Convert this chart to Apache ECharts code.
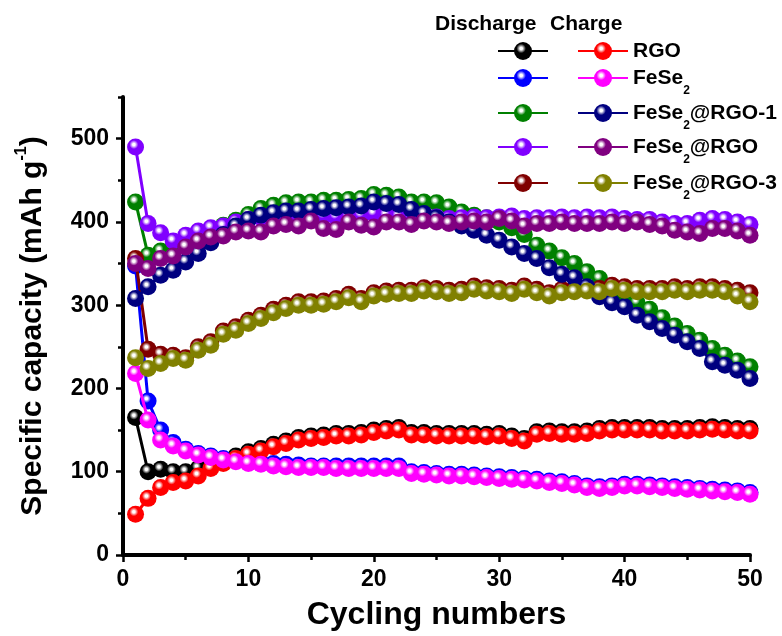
<!DOCTYPE html>
<html>
<head>
<meta charset="utf-8">
<script src="https://cdn.jsdelivr.net/npm/echarts@6/dist/echarts.min.js"></script>
<style>html,body{margin:0;padding:0;background:#fff}#c{width:782px;height:636px}</style>
</head>
<body>
<div id="c"></div>
<script>
const cycles = [1,2,3,4,5,6,7,8,9,10,11,12,13,14,15,16,17,18,19,20,21,22,23,24,25,26,27,28,29,30,31,32,33,34,35,36,37,38,39,40,41,42,43,44,45,46,47,48,49,50];

const rgoDischarge = [165,100,103,100,100,104,108,113,119,124,128,133,137,141,143,144,146,146,147,150,152,153,147,147,146,146,146,146,145,146,143,140,148,149,148,148,149,152,153,153,153,153,152,152,152,153,154,153,152,152];
const rgoCharge = [49,68,81,87,89,95,104,110,116,121,125,130,134,138,140,141,143,143,144,147,149,150,144,144,143,143,143,143,142,143,140,137,145,146,145,145,146,149,150,150,150,150,149,149,149,150,151,150,149,149];
const fese2Discharge = [347,185,150,135,127,122,119,116,114,112,111,110,109,108,107,107,107,107,107,107,107,107,100,99,98,97,97,96,95,94,93,92,91,89,88,86,83,82,83,85,85,84,83,82,81,80,79,78,77,75];
const fese2Charge = [218,162,138,131,125,120,117,114,112,110,109,107,106,105,105,105,104,104,104,104,104,104,98,97,96,95,95,94,93,92,91,90,89,87,86,84,81,80,81,83,83,82,81,80,79,78,77,76,75,73];
const rgo1Discharge = [424,360,365,370,375,382,390,396,402,409,416,420,423,424,424,426,426,427,428,433,432,430,424,424,423,418,412,408,405,400,393,385,372,365,357,350,340,332,322,312,303,295,285,275,266,258,248,240,233,226];
const rgo1Charge = [308,322,336,342,352,362,375,385,395,403,408,411,413,413,415,416,417,418,419,424,422,421,415,410,405,400,395,390,384,378,370,362,356,345,337,333,322,310,303,298,288,280,272,264,256,248,232,228,222,212];
const rgoMidDischarge = [490,398,387,377,384,389,393,395,400,403,405,407,408,408,409,407,406,406,408,410,408,407,406,405,406,404,405,406,405,406,407,404,405,405,406,405,406,405,406,404,403,403,400,398,398,402,404,403,400,397];
const rgoMidCharge = [350,344,356,359,370,377,382,383,388,389,388,395,397,395,401,392,391,400,396,394,400,400,397,401,400,398,400,401,400,404,401,395,398,398,400,398,398,398,400,398,400,397,395,390,388,386,392,392,389,384];
const rgo3Discharge = [356,247,241,240,237,250,256,269,274,282,288,295,300,304,304,305,308,313,308,315,317,318,318,321,320,318,319,323,321,320,318,323,319,315,319,320,321,320,324,322,320,320,320,322,320,322,322,320,318,315];
const rgo3Charge = [237,224,230,236,234,246,252,265,270,278,284,291,296,300,300,301,304,309,304,311,313,314,314,317,316,314,315,319,317,316,314,319,315,311,315,316,317,316,320,318,316,316,316,318,316,318,318,316,311,304];

const dischargeNames = ['RGO discharge','FeSe2 discharge','FeSe2@RGO-1 discharge','FeSe2@RGO discharge','FeSe2@RGO-3 discharge'];
const chargeNames = ['RGO','FeSe2','FeSe2@RGO-1','FeSe2@RGO','FeSe2@RGO-3'];
const dischargeData = [rgoDischarge, fese2Discharge, rgo1Discharge, rgoMidDischarge, rgo3Discharge];
const chargeData = [rgoCharge, fese2Charge, rgo1Charge, rgoMidCharge, rgo3Charge];
const dischargeColors = ['#000000','#0000ff','#008000','#8000ff','#800000'];
const chargeColors = ['#ff0000','#ff00ff','#000080','#800080','#808000'];
const xTicks = [0,10,20,30,40,50];
const yTicks = [0,100,200,300,400,500];

const FONT = '"Liberation Sans", Arial, sans-serif';

function ball(color) {
  return {
    type: 'radial', x: 0.4, y: 0.36, r: 0.62,
    colorStops: [
      {offset: 0, color: '#ffffff'},
      {offset: 0.12, color: '#ffffff'},
      {offset: 0.42, color: color},
      {offset: 1, color: color}
    ]
  };
}

function makeSeries(name, values, color, z) {
  return {
    name: name,
    type: 'line',
    data: cycles.map((c, i) => [c, values[i]]),
    symbol: 'circle',
    symbolSize: 17,
    z: z,
    lineStyle: {color: color, width: 3},
    itemStyle: {color: ball(color)},
    emphasis: {disabled: true},
    animation: false
  };
}

const series = [];
dischargeNames.forEach((n, i) => series.push(makeSeries(n, dischargeData[i], dischargeColors[i], 2 + i)));
chargeNames.forEach((n, i) => series.push(makeSeries(n, chargeData[i], chargeColors[i], 10 + i)));

function labelFmt(name) {
  if (name.indexOf('FeSe2') === 0) {
    const rest = name.slice(5);
    return '{m|FeSe}{s|2}' + (rest ? '{m|' + rest + '}' : '');
  }
  return '{m|' + name + '}{s| }';
}

const richStyle = {
  m: {fontFamily: FONT, fontWeight: 'bold', fontSize: 21, lineHeight: 40, color: '#000'},
  s: {fontFamily: FONT, fontWeight: 'bold', fontSize: 12, lineHeight: 12, padding: [27, 0, 1, 0], color: '#000'}
};

const rowCenters = [51, 78, 113, 147, 183];
const legends = [];
rowCenters.forEach((yc, i) => {
  legends.push({
    data: [dischargeNames[i]], left: 497, top: yc - 20, padding: 0,
    itemWidth: 50, itemHeight: 22.5, selectedMode: false,
    formatter: () => '{s| }', textStyle: {rich: richStyle}
  });
  legends.push({
    data: [chargeNames[i]], left: 577, top: yc - 20, padding: 0,
    itemWidth: 50, itemHeight: 22.5, selectedMode: false,
    formatter: labelFmt,
    textStyle: {rich: richStyle}
  });
});

const chart = echarts.init(document.getElementById('c'), null, {renderer: 'canvas'});
chart.setOption({
  animation: false,
  backgroundColor: '#ffffff',
  grid: {left: 123, right: 32, top: 97, bottom: 78},
  legend: legends,
  graphic: [
    {type: 'text', x: 435, y: 24.5, style: {text: 'Discharge', font: 'bold 21px ' + FONT, fill: '#000', align: 'left', verticalAlign: 'middle'}},
    {type: 'text', x: 550, y: 24.5, style: {text: 'Charge', font: 'bold 21px ' + FONT, fill: '#000', align: 'left', verticalAlign: 'middle'}}
  ],
  xAxis: {
    type: 'value', min: 0, max: 50, interval: 10,
    name: 'Cycling numbers', nameLocation: 'middle', nameGap: 44,
    nameTextStyle: {fontFamily: FONT, fontWeight: 'bold', fontSize: 32, color: '#000'},
    axisLine: {show: true, onZero: false, lineStyle: {color: '#000', width: 4}},
    axisTick: {show: true, length: 7, lineStyle: {color: '#000', width: 2.5}},
    minorTick: {show: true, splitNumber: 2, length: 5, lineStyle: {color: '#000', width: 2.5}},
    axisLabel: {fontFamily: FONT, fontWeight: 'bold', fontSize: 23, color: '#000', margin: 13,
      formatter: v => xTicks.indexOf(v) >= 0 ? String(v) : ''},
    splitLine: {show: false}
  },
  yAxis: [{
    type: 'value', min: 0, max: 550, interval: 50,
    name: '{t|Specific capacity (mAh g}{p|-1}{t|)}', nameLocation: 'middle', nameGap: 70, nameRotate: 90,
    nameTextStyle: {
      rich: {
        t: {fontFamily: FONT, fontWeight: 'bold', fontSize: 30, lineHeight: 40, color: '#000'},
        p: {fontFamily: FONT, fontWeight: 'bold', fontSize: 16, lineHeight: 16, padding: [0, 0, 22, 0], color: '#000'}
      }
    },
    axisLine: {show: true, onZero: false, lineStyle: {color: '#000', width: 4}},
    axisTick: {show: true, length: 5, lineStyle: {color: '#000', width: 2.5}},
    axisLabel: {fontFamily: FONT, fontWeight: 'bold', fontSize: 23, color: '#000', margin: 14,
      formatter: v => yTicks.indexOf(v) >= 0 ? String(v) : ''},
    splitLine: {show: false}
  }, {
    type: 'value', min: 0, max: 550, interval: 100, position: 'left',
    axisLine: {show: false},
    axisTick: {show: true, length: 7, lineStyle: {color: '#000', width: 2.5}, customValues: yTicks},
    axisLabel: {show: false},
    splitLine: {show: false}
  }],
  series: series
});
</script>
</body>
</html>
